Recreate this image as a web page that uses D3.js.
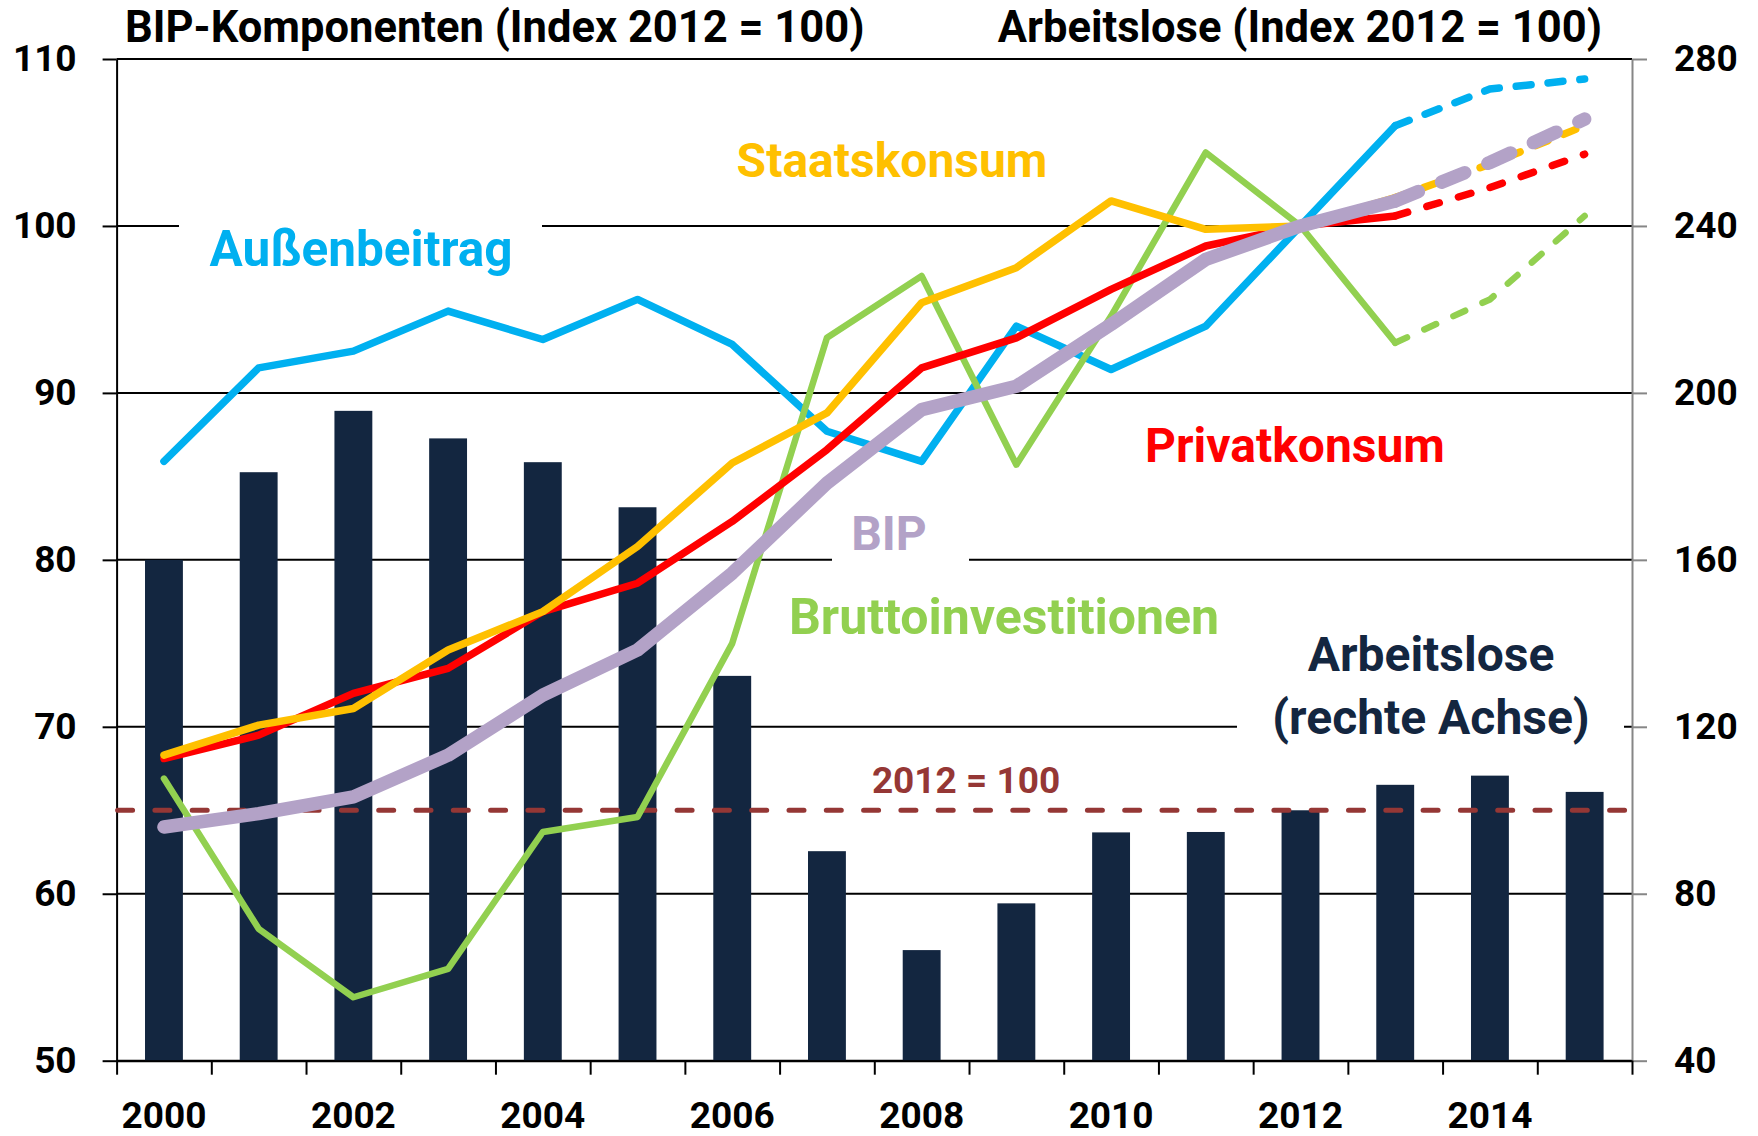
<!DOCTYPE html>
<html>
<head>
<meta charset="utf-8">
<script src="https://cdn.jsdelivr.net/npm/d3@7"></script>
<style>
body { margin: 0; background: #fff; }
svg text { font-family: Roboto, "Liberation Sans", sans-serif; font-weight: bold; }
</style>
</head>
<body>
<svg class="chart" width="1758" height="1136"></svg>
<script>
// categories
var years = ["2000", "2001", "2002", "2003", "2004", "2005", "2006", "2007",
             "2008", "2009", "2010", "2011", "2012", "2013", "2014", "2015"];
var yearLabels = ["2000", "2002", "2004", "2006", "2008", "2010", "2012", "2014"];

// bars, right axis
var arbeitslose = [160, 181, 195.7, 189.1, 183.4, 172.6, 132.2, 90.2, 66.5, 77.7, 94.7, 94.8, 100, 106.1, 108.3, 104.4];

// lines, left axis (2014 and 2015 are forecasts -> dashed)
var aussenbeitrag = [85.9, 91.5, 92.5, 94.9, 93.2, 95.6, 92.9, 87.7, 85.9, 94.0, 91.4, 94.0, 100, 106.0, 108.2, 108.8];
var bruttoinv     = [66.9, 57.9, 53.8, 55.5, 63.7, 64.6, 75.0, 93.3, 97.0, 85.7, 94.6, 104.4, 100, 93.0, 95.6, 100.6];
var privatkonsum  = [68.1, 69.5, 72.0, 73.5, 76.9, 78.6, 82.3, 86.6, 91.5, 93.3, 96.2, 98.8, 100, 100.6, 102.3, 104.3];
var staatskonsum  = [68.3, 70.1, 71.1, 74.6, 76.9, 80.8, 85.8, 88.8, 95.4, 97.5, 101.5, 99.8, 100, 101.7, 103.7, 106.0];
var bip           = [64.0, 64.8, 65.8, 68.3, 71.9, 74.6, 79.2, 84.6, 89.0, 90.4, 94.1, 98.0, 100, 101.5, 103.8, 106.4];

// ticks
var leftTicks = [50, 60, 70, 80, 90, 100, 110];
var rightTicks = [40, 80, 120, 160, 200, 240, 280];

var series = [
    {name: "Außenbeitrag", values: aussenbeitrag, color: "#00b0f0", width: 7.5, dash: "15,17"},
    {name: "Bruttoinvestitionen", values: bruttoinv, color: "#92d050", width: 6.5, dash: "13,19"},
    {name: "Privatkonsum", values: privatkonsum, color: "#ff0000", width: 7.5, dash: "13,20"},
    {name: "Staatskonsum", values: staatskonsum, color: "#ffc000", width: 7.5, dash: "13,17"},
    {name: "BIP", values: bip, color: "#b3a2c7", width: 13.5, dash: "25,25"}
];

var svg = d3.select("svg.chart"),
    margin = {top: 59, right: 126, bottom: 75.3, left: 116.6},
    width = +svg.attr("width") - margin.left - margin.right,
    height = +svg.attr("height") - margin.top - margin.bottom;

var g = svg.append("g")
    .attr("transform", "translate(" + margin.left + "," + margin.top + ")");

var x = d3.scaleBand().domain(years).range([0, width]).paddingInner(0.6).paddingOuter(0.3),
    xEdge = d3.scaleLinear().domain([0, years.length]).range([0, width]),
    yL = d3.scaleLinear().domain([50, 110]).range([height, 0]),
    yR = d3.scaleLinear().domain([40, 280]).range([height, 0]);

function cx(year) { return x(year) + x.bandwidth() / 2; }

// gridlines
g.selectAll(".grid")
    .data(leftTicks)
    .enter().append("line")
        .attr("class", "grid")
        .attr("x1", 0)
        .attr("x2", width)
        .attr("y1", function(d) { return yL(d); })
        .attr("y2", function(d) { return yL(d); })
        .attr("stroke", "#000")
        .attr("stroke-width", 2);

// white boxes behind some labels (they cut the gridlines)
var boxes = [
    {x: 179, y: 195, w: 363, h: 85},
    {x: 832, y: 505, w: 137, h: 70},
    {x: 1237, y: 625, w: 387, h: 135}
];
svg.selectAll(".box")
    .data(boxes)
    .enter().append("rect")
        .attr("class", "box")
        .attr("x", function(d) { return d.x; })
        .attr("y", function(d) { return d.y; })
        .attr("width", function(d) { return d.w; })
        .attr("height", function(d) { return d.h; })
        .attr("fill", "#fff");

// bars
g.selectAll(".bar")
    .data(arbeitslose)
    .enter().append("rect")
        .attr("class", "bar")
        .attr("x", function(d, i) { return x(years[i]); })
        .attr("width", x.bandwidth())
        .attr("y", function(d) { return yR(d); })
        .attr("height", function(d) { return height - yR(d); })
        .attr("fill", "#132640");

// axes
var axisL = g.append("g")
    .attr("class", "axis axis--left")
    .call(d3.axisLeft(yL).tickValues(leftTicks).tickSize(14).tickSizeOuter(0).tickPadding(26));

var axisR = g.append("g")
    .attr("class", "axis axis--right")
    .attr("transform", "translate(" + width + ",0)")
    .call(d3.axisRight(yR).tickValues(rightTicks).tickSize(15).tickSizeOuter(0).tickPadding(27));

var axisB = g.append("g")
    .attr("class", "axis axis--bottom")
    .attr("transform", "translate(0," + height + ")")
    .call(d3.axisBottom(xEdge).tickValues(d3.range(years.length + 1)).tickSize(14).tickSizeOuter(0).tickFormat(""));

var axisBL = g.append("g")
    .attr("class", "axis axis--labels")
    .attr("transform", "translate(0," + height + ")")
    .call(d3.axisBottom(x).tickValues(yearLabels).tickSize(0).tickPadding(41));
axisBL.select(".domain").remove();

svg.selectAll(".axis text")
    .attr("font-size", 37)
    .attr("fill", "#000")
    .style("font-family", "Roboto, sans-serif");
axisL.selectAll("path, line").attr("stroke", "#000").attr("stroke-width", 2);
axisB.selectAll("path, line").attr("stroke", "#000").attr("stroke-width", 2);
axisR.selectAll("path, line").attr("stroke", "#868686").attr("stroke-width", 2);

// 2012 = 100 reference line (right axis)
g.append("line")
    .attr("x1", 0)
    .attr("x2", width)
    .attr("y1", yR(100))
    .attr("y2", yR(100))
    .attr("stroke", "#953735")
    .attr("stroke-width", 5)
    .attr("stroke-linecap", "round")
    .attr("stroke-dasharray", "15,22.3")
    .attr("stroke-dashoffset", -1);

// lines
var line = d3.line()
    .x(function(d) { return cx(d.year); })
    .y(function(d) { return yL(d.value); });

series.forEach(function(s) {
    var pts = s.values.map(function(v, i) { return {year: years[i], value: v}; });
    g.append("path")
        .datum(pts.slice(0, 14))
        .attr("fill", "none")
        .attr("stroke", s.color)
        .attr("stroke-width", s.width)
        .attr("stroke-linejoin", "round")
        .attr("stroke-linecap", "round")
        .attr("d", line);
    g.append("path")
        .datum(pts.slice(13))
        .attr("fill", "none")
        .attr("stroke", s.color)
        .attr("stroke-width", s.width)
        .attr("stroke-linecap", "round")
        .attr("stroke-dasharray", s.dash)
        .attr("d", line);
});

// titles and labels
var labels = [
    {text: "BIP-Komponenten (Index 2012 = 100)", x: 125, y: 42, anchor: "start", size: 43.5, color: "#000"},
    {text: "Arbeitslose (Index 2012 = 100)", x: 1602, y: 42, anchor: "end", size: 43.5, color: "#000"},
    {text: "Staatskonsum", x: 892, y: 177, anchor: "middle", size: 48, color: "#ffc000"},
    {text: "Außenbeitrag", x: 361, y: 266, anchor: "middle", size: 49.5, color: "#00b0f0"},
    {text: "Privatkonsum", x: 1295, y: 462, anchor: "middle", size: 48, color: "#ff0000"},
    {text: "BIP", x: 889, y: 550, anchor: "middle", size: 48, color: "#b3a2c7"},
    {text: "Bruttoinvestitionen", x: 1004, y: 634, anchor: "middle", size: 50, color: "#92d050"},
    {text: "Arbeitslose", x: 1431, y: 671, anchor: "middle", size: 48, color: "#132640"},
    {text: "(rechte Achse)", x: 1431, y: 734, anchor: "middle", size: 48, color: "#132640"},
    {text: "2012 = 100", x: 966, y: 793, anchor: "middle", size: 37, color: "#953735"}
];

svg.selectAll(".label")
    .data(labels)
    .enter().append("text")
        .attr("class", "label")
        .attr("x", function(d) { return d.x; })
        .attr("y", function(d) { return d.y; })
        .attr("text-anchor", function(d) { return d.anchor; })
        .attr("font-size", function(d) { return d.size; })
        .attr("fill", function(d) { return d.color; })
        .text(function(d) { return d.text; })
</script>
</body>
</html>
